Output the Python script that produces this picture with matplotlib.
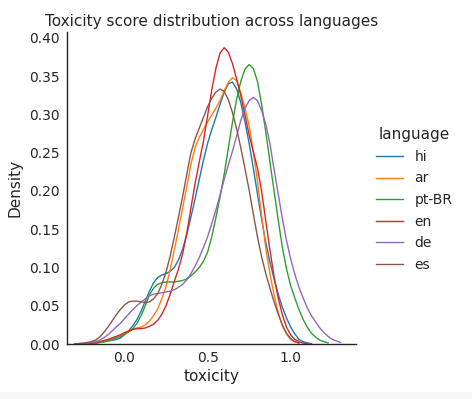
import numpy as np
import matplotlib
matplotlib.use("Agg")
import matplotlib.pyplot as plt
from matplotlib.patches import Rectangle

# toxicity grid (-0.3 .. 1.3, step 0.025) and density
# nan = curve not drawn at that point
toxicity = np.round(np.arange(-0.30, 1.3001, 0.025), 3)
nan = np.nan

languages = ["hi", "ar", "pt-BR", "en", "de", "es"]
colors = ["#1f77b4", "#ff7f0e", "#2ca02c", "#d62728", "#9467bd", "#8c564b"]

hi = [nan, nan, 0.0003, 0.0005, 0.0008, 0.0013, 0.002, 0.003, 0.004, 0.0048,     # -0.300 .. -0.075
      0.0058, 0.0078, 0.012, 0.017, 0.024, 0.032, 0.043, 0.056, 0.069, 0.080,    # -0.050 .. 0.175
      0.087, 0.090, 0.092, 0.095, 0.100, 0.110, 0.124, 0.143, 0.166, 0.190,      # 0.200 .. 0.425
      0.215, 0.240, 0.262, 0.280, 0.296, 0.313, 0.329, 0.340, 0.342, 0.333,      # 0.450 .. 0.675
      0.315, 0.290, 0.262, 0.230, 0.196, 0.163, 0.133, 0.107, 0.085, 0.065,      # 0.700 .. 0.925
      0.048, 0.034, 0.022, 0.013, 0.006, 0.003, 0.0015, 0.0005, nan, nan,        # 0.950 .. 1.175
      nan, nan, nan, nan, nan]                                                   # 1.200 .. 1.300
ar = [nan, nan, 0.0003, 0.0005, 0.001, 0.0015, 0.002, 0.003, 0.004, 0.006,
      0.008, 0.010, 0.013, 0.016, 0.019, 0.021, 0.022, 0.025, 0.030, 0.037,
      0.046, 0.059, 0.075, 0.097, 0.123, 0.150, 0.178, 0.206, 0.235, 0.257,
      0.270, 0.280, 0.290, 0.299, 0.308, 0.318, 0.331, 0.342, 0.348, 0.344,
      0.328, 0.308, 0.285, 0.252, 0.213, 0.168, 0.125, 0.092, 0.064, 0.041,
      0.024, 0.013, 0.006, 0.003, 0.001, nan, nan, nan, nan, nan,
      nan, nan, nan, nan, nan]
pt_br = [nan, nan, 0.0003, 0.0005, 0.0008, 0.0013, 0.002, 0.003, 0.004, 0.006,
         0.008, 0.010, 0.013, 0.016, 0.020, 0.027, 0.037, 0.050, 0.064, 0.073,
         0.078, 0.080, 0.081, 0.081, 0.081, 0.082, 0.083, 0.085, 0.089, 0.094,
         0.100, 0.108, 0.120, 0.140, 0.165, 0.192, 0.222, 0.256, 0.290, 0.320,
         0.343, 0.359, 0.365, 0.360, 0.343, 0.313, 0.277, 0.238, 0.200, 0.162,
         0.126, 0.098, 0.076, 0.060, 0.045, 0.032, 0.022, 0.014, 0.009, 0.005,
         0.003, 0.0015, nan, nan, nan]
en = [nan, nan, 0.0005, 0.0007, 0.001, 0.002, 0.003, 0.0045, 0.006, 0.008,
      0.010, 0.012, 0.015, 0.017, 0.019, 0.020, 0.020, 0.021, 0.023, 0.026,
      0.031, 0.039, 0.050, 0.065, 0.082, 0.098, 0.118, 0.145, 0.178, 0.210,
      0.238, 0.265, 0.298, 0.332, 0.360, 0.380, 0.387, 0.381, 0.366, 0.346,
      0.324, 0.299, 0.273, 0.251, 0.230, 0.200, 0.161, 0.123, 0.088, 0.060,
      0.038, 0.022, 0.012, 0.006, 0.003, 0.0012, 0.0005, nan, nan, nan,
      nan, nan, nan, nan, nan]
de = [0.0002, 0.0005, 0.0008, 0.0013, 0.002, 0.003, 0.005, 0.008, 0.012, 0.017,
      0.022, 0.027, 0.033, 0.039, 0.045, 0.050, 0.055, 0.059, 0.063, 0.065,
      0.066, 0.067, 0.068, 0.069, 0.071, 0.074, 0.078, 0.084, 0.092, 0.102,
      0.113, 0.126, 0.140, 0.157, 0.175, 0.195, 0.215, 0.234, 0.252, 0.272,
      0.292, 0.308, 0.318, 0.322, 0.318, 0.305, 0.287, 0.262, 0.228, 0.196,
      0.164, 0.135, 0.111, 0.091, 0.074, 0.060, 0.047, 0.037, 0.029, 0.021,
      0.015, 0.010, 0.006, 0.004, 0.002]
es = [0.0003, 0.0006, 0.001, 0.002, 0.003, 0.005, 0.009, 0.015, 0.022, 0.030,
      0.038, 0.045, 0.051, 0.055, 0.056, 0.056, 0.055, 0.054, 0.055, 0.059,
      0.066, 0.078, 0.094, 0.115, 0.140, 0.166, 0.193, 0.222, 0.250, 0.268,
      0.282, 0.296, 0.310, 0.321, 0.329, 0.333, 0.330, 0.319, 0.302, 0.281,
      0.256, 0.229, 0.201, 0.170, 0.140, 0.114, 0.092, 0.073, 0.055, 0.039,
      0.025, 0.014, 0.007, 0.003, 0.0015, nan, nan, nan, nan, nan,
      nan, nan, nan, nan, nan]

series = [hi, ar, pt_br, en, de, es]
for s in series:
    assert len(s) == len(toxicity), len(s)

plt.rcParams["font.family"] = "DejaVu Sans"
plt.rcParams["text.color"] = "0.15"
plt.rcParams["axes.labelcolor"] = "0.15"
plt.rcParams["xtick.color"] = "0.15"
plt.rcParams["ytick.color"] = "0.15"

fig = plt.figure(figsize=(4.72, 3.99), dpi=100)
fig.patch.set_facecolor("white")
fig.patches.append(Rectangle((0, 0), 1, 7 / 399, transform=fig.transFigure,
                             facecolor="#f6f7f9", edgecolor="none", zorder=0))

ax = fig.add_axes([67 / 472, 55 / 399, 289 / 472, 312 / 399])
for lang, dens, c in zip(languages, series, colors):
    ax.plot(toxicity, dens, color=c, lw=1.0, label=lang)

ax.set_xlim(-0.346, 1.393)
ax.set_ylim(0, 0.4075)
ax.set_xticks([0.0, 0.5, 1.0])
yt = np.arange(0, 0.41, 0.05)
ax.set_yticks(yt)
ax.set_yticklabels([f"{v:.2f}" for v in yt])
ax.tick_params(length=0, labelsize=10, pad=5)
for s in ["top", "right"]:
    ax.spines[s].set_visible(False)
for s in ["left", "bottom"]:
    ax.spines[s].set_color("0.15")
    ax.spines[s].set_linewidth(1.0)

ax.set_xlabel("toxicity", fontsize=11, labelpad=3)
ax.set_ylabel("Density", fontsize=11, labelpad=5)
ax.set_title("Toxicity score distribution across languages", fontsize=11, pad=4)

handles, labels = ax.get_legend_handles_labels()
fig.legend(handles, labels, title="language", loc="center left",
           bbox_to_anchor=(363 / 472, 0.5), frameon=False, fontsize=10,
           title_fontsize=11, handlelength=2.0, labelspacing=0.55)

fig.savefig("out.png", dpi=100)
